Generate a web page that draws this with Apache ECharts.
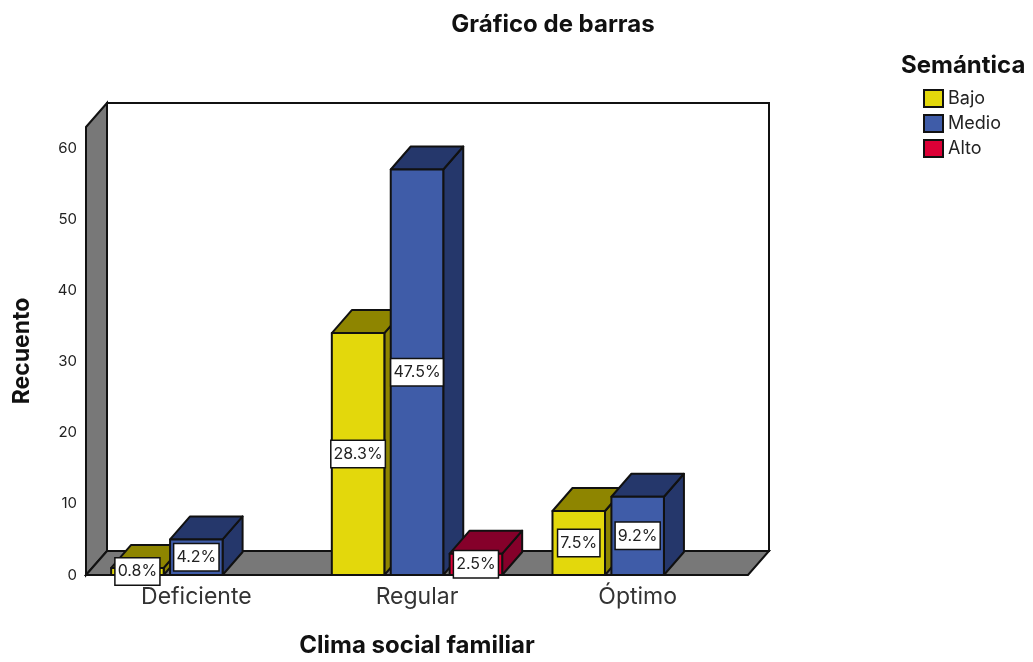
<!DOCTYPE html>
<html>
<head>
<meta charset="utf-8">
<style>html,body{margin:0;padding:0;background:#fff}#c{width:1033px;height:662px}</style>
<script src="https://cdn.jsdelivr.net/npm/echarts@6/dist/echarts.min.js"></script>
</head>
<body>
<div id="c"></div>
<script>
const categories = ['Deficiente', 'Regular', 'Óptimo'];
const bajo = [1, 34, 9];
const medio = [5, 57, 11];
const alto = [0, 3, 0];
const bajoPct = ['0.8%', '28.3%', '7.5%'];
const medioPct = ['4.2%', '47.5%', '9.2%'];
const altoPct = ['', '2.5%', ''];

const FONT = 'Inter, "Liberation Sans", Arial, sans-serif';
const INK = '#111';
const FRAME_DX = 21, FRAME_DY = 24;
const BAR_DX = 20, BAR_DY = 23;

function frameItem(params, api) {
  const c = params.coordSys;
  const l = c.x, r = c.x + c.width, t = c.y, b = c.y + c.height;
  const sty = { stroke: INK, lineWidth: 2 };
  return {
    type: 'group',
    children: [
      { type: 'rect', shape: { x: l + FRAME_DX, y: t - FRAME_DY, width: c.width, height: c.height },
        style: { fill: '#fff', ...sty } },
      { type: 'polygon', shape: { points: [[l, t], [l + FRAME_DX, t - FRAME_DY], [l + FRAME_DX, b - FRAME_DY], [l, b]] },
        style: { fill: '#787878', ...sty } },
      { type: 'polygon', shape: { points: [[l, b], [l + FRAME_DX, b - FRAME_DY], [r + FRAME_DX, b - FRAME_DY], [r, b]] },
        style: { fill: '#787878', ...sty } }
    ]
  };
}

function barRenderer(slot, front, dark, labels) {
  return function (params, api) {
    const cat = api.value(0), val = api.value(1);
    if (!val) return null;
    const band = api.size([1, 0])[0];
    const w = band * 0.238;
    const cx = api.coord([cat, 0])[0] + slot * band * 0.267;
    const y0 = api.coord([cat, 0])[1];
    const y1 = api.coord([cat, val])[1];
    const x0 = cx - w / 2, x1 = cx + w / 2;
    const sty = { stroke: INK, lineWidth: 2, lineJoin: 'round' };
    return {
      type: 'group',
      children: [
        { type: 'polygon', shape: { points: [[x1, y1], [x1 + BAR_DX, y1 - BAR_DY], [x1 + BAR_DX, y0 - BAR_DY], [x1, y0]] },
          style: { fill: dark, ...sty } },
        { type: 'polygon', shape: { points: [[x0, y1], [x0 + BAR_DX, y1 - BAR_DY], [x1 + BAR_DX, y1 - BAR_DY], [x1, y1]] },
          style: { fill: dark, ...sty } },
        { type: 'rect', shape: { x: x0, y: y1, width: w, height: y0 - y1 },
          style: { fill: front, ...sty } },
        { type: 'text', x: cx, y: (y0 + y1) / 2, z2: 100,
          style: { text: labels[cat], align: 'center', verticalAlign: 'middle',
            font: '16px ' + FONT, fill: '#222', backgroundColor: '#fff',
            borderColor: INK, borderWidth: 1.5, padding: [5, 2, 5, 2] } }
      ]
    };
  };
}

function toData(arr) { return arr.map((v, i) => [i, v]); }

function barSeries(name, values, slot, front, dark, labels) {
  return {
    type: 'custom', name, data: toData(values), encode: { x: 0, y: 1 }, clip: false,
    itemStyle: { color: front, borderColor: INK, borderWidth: 1.5 },
    renderItem: barRenderer(slot, front, dark, labels)
  };
}

const chart = echarts.init(document.getElementById('c'), null, { renderer: 'canvas' });
chart.setOption({
  animation: false,
  backgroundColor: '#fff',
  title: [
    { text: 'Gráfico de barras', left: 548, top: 8, textAlign: 'center',
      textStyle: { fontFamily: FONT, fontSize: 24, fontWeight: 'bold', color: '#111' } },
    { text: 'Semántica', left: 896, top: 49,
      textStyle: { fontFamily: FONT, fontSize: 24, fontWeight: 'bold', color: '#111' } }
  ],
  legend: {
    data: ['Bajo', 'Medio', 'Alto'], orient: 'vertical', left: 923, top: 89,
    itemWidth: 19, itemHeight: 17, itemGap: 6, icon: 'rect', selectedMode: false, padding: 0,
    textStyle: { fontFamily: FONT, fontSize: 18, color: '#222' }
  },
  grid: { left: 86, right: 285, top: 127, bottom: 87, outerBoundsMode: 'none' },
  xAxis: {
    type: 'category', data: categories,
    name: 'Clima social familiar', nameLocation: 'middle', nameGap: 59,
    nameTextStyle: { fontFamily: FONT, fontSize: 24, fontWeight: 'bold', color: '#111' },
    axisLine: { show: false }, axisTick: { show: false },
    axisLabel: { fontFamily: FONT, fontSize: 23, color: '#333', margin: 11 }
  },
  yAxis: {
    type: 'value', min: 0, max: 62.97, interval: 10,
    name: 'Recuento', nameLocation: 'middle', nameGap: 52,
    nameTextStyle: { fontFamily: FONT, fontSize: 23, fontWeight: 'bold', color: '#111' },
    axisLine: { show: false }, axisTick: { show: false }, splitLine: { show: false },
    axisLabel: { fontFamily: FONT, fontSize: 15, color: '#222', margin: 9, showMaxLabel: false,
      padding: [5, 0, 0, 0],
      formatter: v => (v % 10 === 0 ? String(v) : '') }
  },
  series: [
    { type: 'custom', name: 'frame', data: [[0, 0]], encode: { x: 0, y: 1 }, clip: false, silent: true, renderItem: frameItem },
    barSeries('Bajo', bajo, -1, '#E3D80C', '#8E8500', bajoPct),
    barSeries('Medio', medio, 0, '#3F5CA8', '#25376B', medioPct),
    barSeries('Alto', alto, 1, '#DC0036', '#85002A', altoPct)
  ]
});
</script>
</body>
</html>
